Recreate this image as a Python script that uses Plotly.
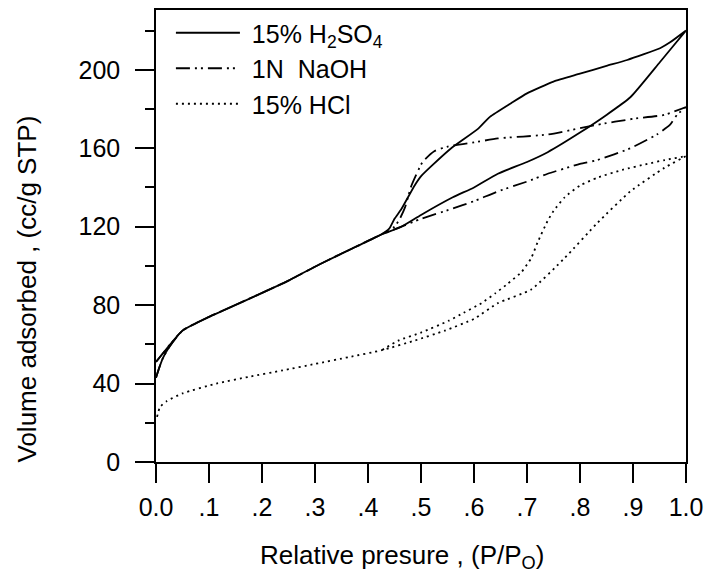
import plotly.graph_objects as go

# ---------------- data ----------------
# 15% H2SO4 : adsorption (0 -> 1) then desorption (1 -> 0)
h2so4_ads_x = [0.0, 0.006, 0.013, 0.026, 0.05, 0.1, 0.125, 0.19, 0.25, 0.31, 0.375, 0.425,
               0.463, 0.5, 0.56, 0.6, 0.645, 0.7, 0.739, 0.8, 0.85, 0.895, 0.951, 1.0]
h2so4_ads_y = [43, 48, 53, 59, 67, 74, 77, 85, 92.5, 101, 109.5, 116,
               120, 126, 135, 140, 147, 153, 158, 168, 177, 186, 204, 220]
h2so4_des_x = [1.0, 0.97, 0.951, 0.889, 0.85, 0.8, 0.75, 0.7, 0.67, 0.63, 0.608, 0.557,
               0.52, 0.501, 0.488, 0.463, 0.45, 0.44, 0.425, 0.375, 0.31, 0.25, 0.19, 0.125, 0.1, 0.05, 0.0]
h2so4_des_y = [220, 214, 211, 205, 202, 198, 194, 188, 183, 176, 170, 160,
               151, 146, 141, 129, 124, 119, 116, 109.5, 101, 92.5, 85, 77, 74, 67, 51]

# 1N NaOH
naoh_ads_x = [0.0, 0.006, 0.013, 0.026, 0.05, 0.1, 0.19, 0.25, 0.31, 0.375, 0.425,
              0.463, 0.5, 0.557, 0.6, 0.645, 0.7, 0.739, 0.8, 0.833, 0.895, 0.945, 0.97, 0.983, 1.0]
naoh_ads_y = [43, 48, 53, 59, 67, 74, 85, 92.5, 101, 109.5, 116,
              120, 124, 129, 133, 138, 143, 147, 152, 154, 160, 167, 172, 177, 181]
naoh_des_x = [1.0, 0.959, 0.9, 0.833, 0.739, 0.645, 0.6, 0.552, 0.525, 0.503, 0.482,
              0.47, 0.46, 0.45, 0.425, 0.375, 0.31, 0.25, 0.19, 0.1, 0.05, 0.0]
naoh_des_y = [181, 177, 175, 172, 167, 165, 163, 161, 158.5, 153, 141,
              130, 124, 120, 116, 109.5, 101, 92.5, 85, 74, 67, 51]

# 15% HCl
hcl_ads_x = [0.002, 0.0075, 0.02, 0.05, 0.114, 0.176, 0.239, 0.30, 0.364, 0.426, 0.489, 0.545,
             0.6, 0.645, 0.708, 0.771, 0.833, 0.895, 0.959, 1.0]
hcl_ads_y = [23, 28, 31, 35, 40, 43.5, 46.7, 50, 53.5, 57, 62, 67,
             73, 81, 88, 104, 122, 138, 150, 156]
hcl_des_x = [1.0, 0.96, 0.927, 0.88, 0.833, 0.8, 0.771, 0.75, 0.739, 0.72, 0.708, 0.69,
             0.664, 0.64, 0.614, 0.58, 0.552, 0.5, 0.458, 0.426]
hcl_des_y = [156, 154, 152, 149, 145, 141, 135, 128, 123, 112, 104, 97,
             91, 86, 81, 76, 72, 66, 62, 57]

series_names = ["\u00a015% H<sub>2</sub>SO<sub>4</sub>", "\u00a01N\u00a0 NaOH", "\u00a015% HCl"]

x_tickvals = [0.0, 0.1, 0.2, 0.3, 0.4, 0.5, 0.6, 0.7, 0.8, 0.9, 1.0]
x_ticktext = ["0.0", ".1", ".2", ".3", ".4", ".5", ".6", ".7", ".8", ".9", "1.0"]
y_tickvals = [0, 40, 80, 120, 160, 200]

FONT = "Liberation Sans, Arial, sans-serif"

# body margin is removed (post_script), so the figure fills the 711x588 window
W, H = 711, 588
L, R, T, B = 156, 22, 8, 126
PW, PH = W - L - R, H - T - B


def px(sx):   # screen x -> paper x
    return (sx - L) / PW


def py(sy):   # screen y -> paper y
    return (H - B - sy) / PH


LINE_SHAPE = dict(shape="spline", smoothing=0.5)

fig = go.Figure()
fig.add_trace(go.Scatter(x=h2so4_ads_x + h2so4_des_x, y=h2so4_ads_y + h2so4_des_y,
                         mode="lines", name=series_names[0],
                         line=dict(color="black", width=1.8, dash="solid", **LINE_SHAPE)))
fig.add_trace(go.Scatter(x=naoh_ads_x + naoh_des_x, y=naoh_ads_y + naoh_des_y,
                         mode="lines", name=series_names[1],
                         line=dict(color="black", width=1.8, dash="14px,5px,2px,4px,2px,5px",
                                   **LINE_SHAPE)))
fig.add_trace(go.Scatter(x=hcl_ads_x + hcl_des_x, y=hcl_ads_y + hcl_des_y,
                         mode="lines", name=series_names[2],
                         line=dict(color="black", width=1.8, dash="2px,4px", **LINE_SHAPE)))

fig.update_layout(
    width=W, height=H,
    margin=dict(l=L, r=R, t=T, b=B, pad=0),
    paper_bgcolor="white", plot_bgcolor="white",
    font=dict(family=FONT, size=25, color="black"),
    showlegend=True,
    legend=dict(x=px(178) - 7 / PW, y=1.0, xanchor="left", yanchor="top",
                bgcolor="rgba(0,0,0,0)", borderwidth=0,
                font=dict(family=FONT, size=25, color="black"),
                itemwidth=64, tracegroupgap=0),
)
fig.update_xaxes(
    range=[0, 1], tickvals=x_tickvals, ticktext=x_ticktext,
    showgrid=False, zeroline=False,
    showline=True, linecolor="black", linewidth=1.5, mirror=True,
    ticks="outside", ticklen=19, tickwidth=1.5, tickcolor="black",
    ticklabelstandoff=3,
    tickfont=dict(family=FONT, size=25, color="black"),
)
fig.update_yaxes(
    range=[0, 230.5], tickvals=y_tickvals,
    showgrid=False, zeroline=False,
    showline=True, linecolor="black", linewidth=1.5, mirror=True,
    ticks="outside", ticklen=19, tickwidth=1.5, tickcolor="black",
    minor=dict(dtick=20, tick0=0, ticklen=9, tickwidth=1.5, tickcolor="black", ticks="outside", showgrid=False),
    ticklabelstandoff=10,
    tickfont=dict(family=FONT, size=25, color="black"),
)
fig.add_annotation(text="Relative presure , (P/P<sub>O</sub>)", xref="paper", yref="paper",
                   x=px(403), y=py(557), showarrow=False,
                   xanchor="center", yanchor="middle",
                   font=dict(family=FONT, size=26, color="black"))
fig.add_annotation(text="Volume adsorbed , (cc/g STP)", xref="paper", yref="paper",
                   x=px(26), y=py(288), showarrow=False,
                   textangle=-90, xanchor="center", yanchor="middle",
                   font=dict(family=FONT, size=26, color="black"))

fig.write_html("out.html", config={"displayModeBar": False},
               post_script="document.body.style.margin='0';document.body.style.overflow='hidden';")
